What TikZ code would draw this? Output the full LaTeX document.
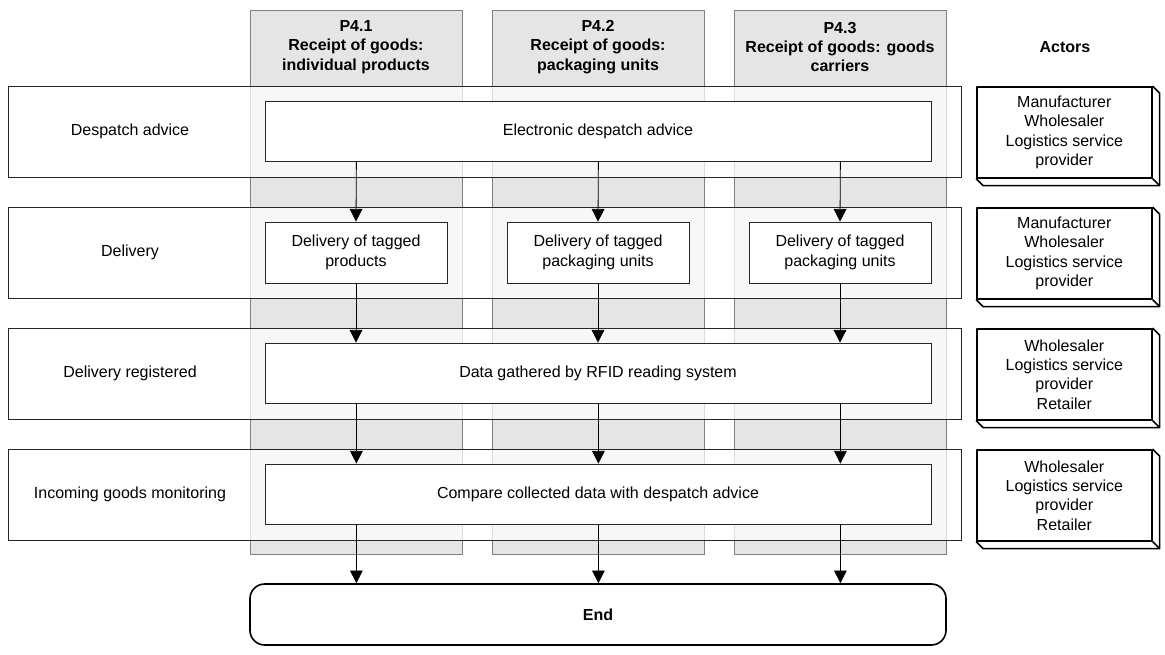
\documentclass[tikz,border=0pt]{standalone}
\usepackage{fontspec}
\setmainfont{Liberation Sans}
\usetikzlibrary{arrows.meta}
\begin{document}
\begin{tikzpicture}[x=0.75pt,y=-0.75pt,
  font=\fontsize{12}{14.5}\selectfont,
  sz/.style 2 args={minimum width=#1*0.75pt, minimum height=#2*0.75pt, inner sep=0pt},
  col/.style={draw=black!50, fill=black!10, line width=0.6pt},
  band/.style={draw=black!85, fill=white, fill opacity=0.72, text opacity=1, line width=0.6pt},
  box/.style={draw=black!85, fill=white, line width=0.6pt, align=center},
  hdr/.style={font=\fontsize{12}{14.5}\selectfont\bfseries, align=center},
  lbl/.style={align=center},
  arr/.style={-{Triangle[width=9.5pt,length=9.5pt]}, line width=0.6pt},
  actor/.style={draw=black, fill=white, line width=1.2pt, align=center, line join=round},
  depth/.style={draw=black, line width=1.2pt, line join=round},
  endbox/.style={draw=black, fill=white, line width=1.2pt, rounded corners=11pt, font=\fontsize{12}{14.5}\selectfont\bfseries}]
\useasboundingbox (0,0) rectangle (1165,655);
% columns
\node[col, sz={212}{544}, anchor=north west] (c1) at (250,10) {};
\node[col, sz={212}{544}, anchor=north west] (c2) at (492,10) {};
\node[col, sz={212}{544}, anchor=north west] (c3) at (734,10) {};
\node[hdr] (h1) at (356,47) {P4.1\\Receipt of goods:\\individual products};
\node[hdr] (h2) at (598,47) {P4.2\\Receipt of goods:\\packaging units};
\node[hdr] (h3) at (840,47) {P4.3\\Receipt of goods: goods\\carriers};
\node[hdr] (act) at (1065,47) {Actors};
% bands
\node[band, sz={953}{91}, anchor=north west] (r1) at (8,86) {};
\node[band, sz={953}{91}, anchor=north west] (r2) at (8,207) {};
\node[band, sz={953}{91}, anchor=north west] (r3) at (8,328) {};
\node[band, sz={953}{91}, anchor=north west] (r4) at (8,449) {};
\node[lbl] (l1) at (130,131) {Despatch advice};
\node[lbl] (l2) at (130,252) {Delivery};
\node[lbl] (l3) at (130,373) {Delivery registered};
\node[lbl] (l4) at (130,494) {Incoming goods monitoring};
% inner boxes
\node[box, sz={666}{60}] (b1) at (598,131) {Electronic despatch advice};
\node[box, sz={182}{61}] (d1) at (356,252.5) {Delivery of tagged\\products};
\node[box, sz={182}{61}] (d2) at (598,252.5) {Delivery of tagged\\packaging units};
\node[box, sz={182}{61}] (d3) at (840,252.5) {Delivery of tagged\\packaging units};
\node[box, sz={666}{60}] (b3) at (598,373) {Data gathered by RFID reading system};
\node[box, sz={666}{60}] (b4) at (598,494) {Compare collected data with despatch advice};
\node[endbox, sz={696}{61}] (end) at (598,614.5) {End};
% arrows
\foreach \i in {1,2,3}{
  \draw[arr] (b1.south -| c\i) -- (d\i.north);
  \draw[arr] (d\i.south) -- (b3.north -| d\i);
  \draw[arr] (b3.south -| c\i) -- (b4.north -| c\i);
  \draw[arr] (b4.south -| c\i) -- (end.north -| c\i);
}
% actors
\node[actor, sz={175}{91}, anchor=north west] (a1) at (976,86) {Manufacturer\\Wholesaler\\Logistics service\\provider};
\node[actor, sz={175}{91}, anchor=north west] (a2) at (976,207) {Manufacturer\\Wholesaler\\Logistics service\\provider};
\node[actor, sz={175}{91}, anchor=north west] (a3) at (976,328) {Wholesaler\\Logistics service\\provider\\Retailer};
\node[actor, sz={175}{91}, anchor=north west] (a4) at (976,449) {Wholesaler\\Logistics service\\provider\\Retailer};
\foreach \a in {a1,a2,a3,a4}{
  \draw[depth] (\a.north east) -- ([shift={(7,7)}]\a.north east) -- ([shift={(7,7)}]\a.south east) -- ([shift={(7,7)}]\a.south west) -- (\a.south west);
  \draw[depth] (\a.south east) -- ([shift={(7,7)}]\a.south east);
}
\end{tikzpicture}
\end{document}
